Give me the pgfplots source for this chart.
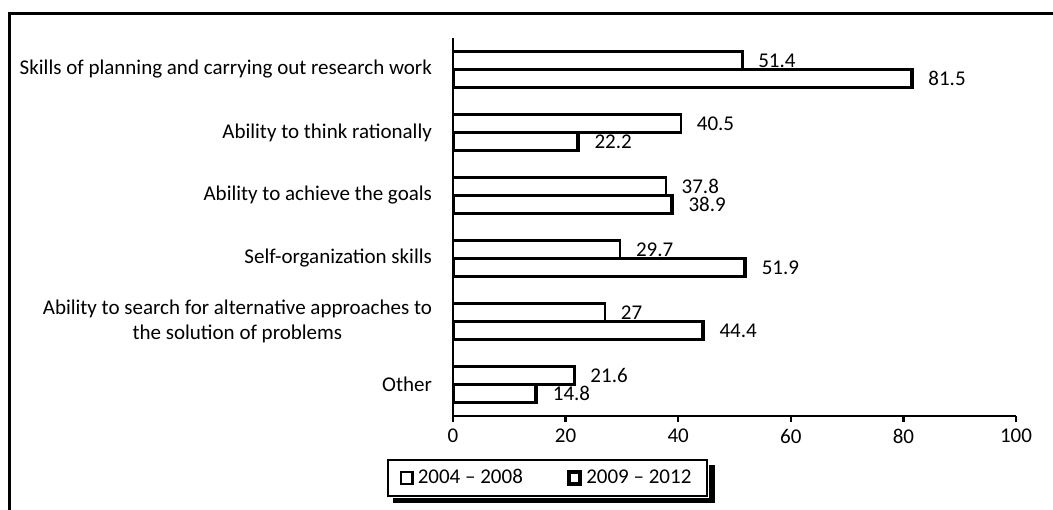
\documentclass[border=0pt]{standalone}
\usepackage{fontspec}
\setmainfont{Carlito}
\usepackage{pgfplots}
\pgfplotsset{compat=1.18}
\newcommand\cf{\fontsize{10.5}{12.6}\selectfont}
\begin{document}
\begin{tikzpicture}
\useasboundingbox (0,0) rectangle (526.5pt,254.5pt);
\draw[line width=1.5pt] (4.5pt,-5pt) -- (4.5pt,247.5pt) -- (540pt,247.5pt);
\begin{axis}[
  at={(226.5pt,46.5pt)}, anchor=south west,
  width=281.5pt, height=189pt, scale only axis,
  xbar=0pt, bar width=9pt,
  xmin=0, xmax=100, ymin=-0.5, ymax=5.5,
  axis x line*=bottom, axis y line*=left,
  axis line style={line width=1.2pt},
  tick style={line width=1.2pt, black},
  tick align=outside, major tick length=3pt,
  xtick={0,20,...,100},
  ytick={0,...,5},
  yticklabels={Other, {Ability to search for alternative approaches to\\the solution of problems}, Self-organization skills, Ability to achieve the goals, Ability to think rationally, Skills of planning and carrying out research work},
  ytick style={draw=none},
  extra y ticks={-0.5,0.5,1.5,2.5,3.5,4.5,5.5},
  extra y tick labels={},
  extra y tick style={tick style={draw=black, line width=1.2pt}},
  yticklabel style={align=center, font=\cf, xshift=-4pt},
  xticklabel style={font=\cf},
  /pgf/number format/assume math mode=true,
  nodes near coords,
  every node near coord/.append style={font=\cf, anchor=west, black, xshift=4pt},
  legend columns=2,
  legend image code/.code={\draw[#1] (0pt,-2.9pt) rectangle (5.8pt,2.9pt);},
  legend style={name=leg, at={(0.168,-0.164)}, anchor=center, draw=black, line width=1pt,
    font=\cf, inner xsep=6pt, inner ysep=2.5pt,
    /tikz/every even column/.append style={column sep=20pt}},
]
\addplot[fill=white, draw=black, line width=1.2pt, bar shift=4.5pt]
  coordinates {(51.4,5) (40.5,4) (37.8,3) (29.7,2) (27,1) (21.6,0)};
\addplot[fill=white, draw=black, line width=1.9pt, bar shift=-4.5pt]
  coordinates {(81.5,5) (22.2,4) (38.9,3) (51.9,2) (44.4,1) (14.8,0)};
\legend{2004 – 2008, 2009 – 2012}
\end{axis}
\draw[line width=2.6pt] ([xshift=1.8pt,yshift=-3pt]leg.north east) -- ([xshift=1.8pt,yshift=-1.8pt]leg.south east) -- ([xshift=3pt,yshift=-1.8pt]leg.south west);
\end{tikzpicture}
\end{document}
